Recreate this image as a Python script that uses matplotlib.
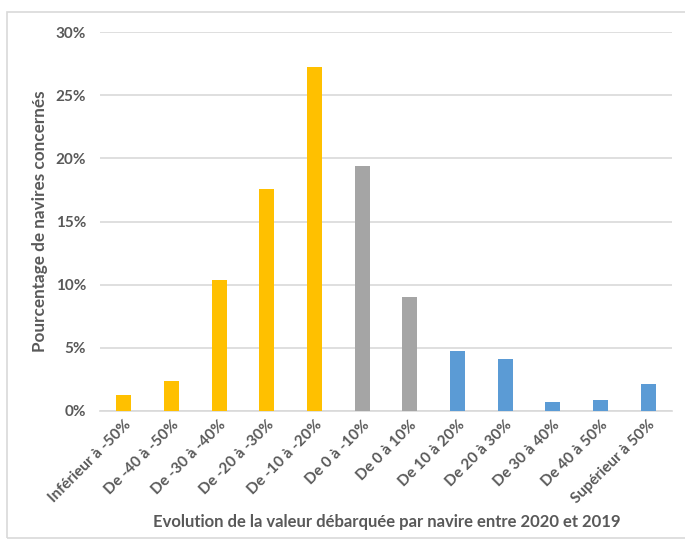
import matplotlib.pyplot as plt
from matplotlib.patches import Rectangle
from matplotlib.ticker import FuncFormatter

categories = [
    "Inférieur à -50%", "De -40 à -50%", "De -30 à -40%", "De -20 à -30%",
    "De -10 à -20%", "De 0 à -10%", "De 0 à 10%", "De 10 à 20%",
    "De 20 à 30%", "De 30 à 40%", "De 40 à 50%", "Supérieur à 50%",
]
values = [1.3, 2.4, 10.4, 17.6, 27.2, 19.4, 9.0, 4.75, 4.1, 0.7, 0.9, 2.1]
groups = ["baisse"] * 5 + ["stable"] * 2 + ["hausse"] * 5
yticks = [0, 5, 10, 15, 20, 25, 30]

palette = {"baisse": "#FFC000", "stable": "#A5A5A5", "hausse": "#5B9BD5"}
text_color = "#595959"

plt.rcParams["font.family"] = ["Lato", "DejaVu Sans"]

W, H = 685, 541
fig = plt.figure(figsize=(W / 100, H / 100), dpi=100)
ax = fig.add_axes([100 / W, (H - 411) / H, 572 / W, 379 / H])

x = list(range(len(categories)))
ax.bar(x, values, width=0.32, color=[palette[g] for g in groups], zorder=3)

ax.set_xlim(-0.5, len(categories) - 0.5)
ax.set_ylim(0, 30)
ax.set_yticks(yticks)
ax.yaxis.set_major_formatter(FuncFormatter(lambda v, p: f"{v:.0f}%"))
ax.grid(axis="y", color="#D9D9D9", linewidth=1.2, zorder=0)
for s in ["top", "right", "left"]:
    ax.spines[s].set_visible(False)
ax.spines["bottom"].set_color("#D9D9D9")
ax.spines["bottom"].set_linewidth(1.2)
ax.tick_params(axis="both", length=0, colors=text_color, labelsize=11)
ax.tick_params(axis="y", pad=10)
ax.tick_params(axis="x", pad=5)
ax.set_xticks(x)
ax.set_xticklabels(categories, rotation=45, ha="right", rotation_mode="anchor",
                   fontweight="bold")
for lab in ax.get_yticklabels():
    lab.set_fontweight("bold")

ax.set_ylabel("Pourcentage de navires concernés", color=text_color,
              fontsize=12.3, fontweight="bold")
ax.yaxis.set_label_coords(-(100 - 48) / 572, 0.5)
fig.text(387 / W, (H - 522) / H,
         "Evolution de la valeur débarquée par navire entre 2020 et 2019",
         ha="center", va="center", color=text_color, fontsize=12,
         fontweight="bold")

fig.patches.append(Rectangle((7 / W, 3 / H), 700 / W, (H - 15) / H,
                             transform=fig.transFigure, fill=False,
                             edgecolor="#D9D9D9", linewidth=1.2))

fig.savefig("out.png", dpi=100)
